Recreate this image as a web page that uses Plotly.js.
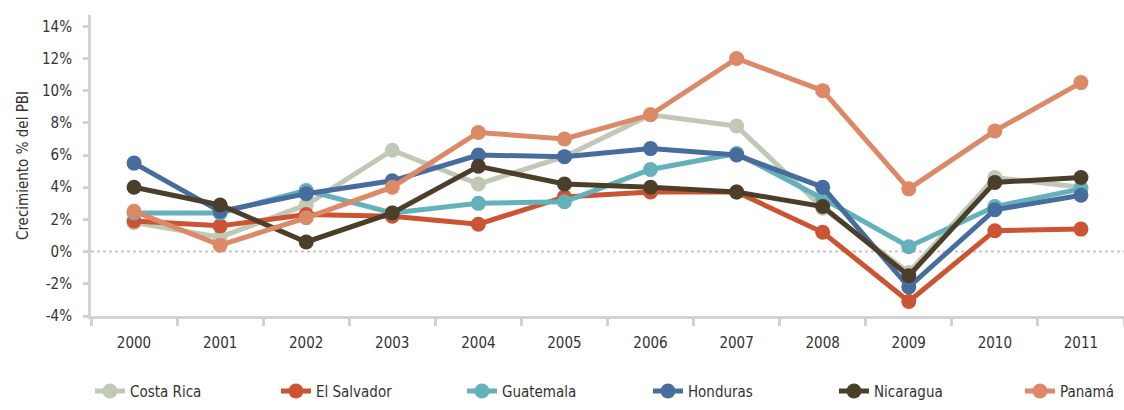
<!DOCTYPE html>
<html><head><meta charset="utf-8">
<script src="https://cdn.plot.ly/plotly-3.0.1.min.js"></script>
<style>html,body{margin:0;padding:0;background:#fff}#chart{width:1124px;height:410px}</style>
</head><body><div id="chart"></div>
<script>
const years = ['2000','2001','2002','2003','2004','2005','2006','2007','2008','2009','2010','2011'];
const costaRica  = [1.8, 0.9, 2.9, 6.3, 4.2, 5.9, 8.5, 7.8, 2.7, -1.3, 4.6, 4.0];
const elSalvador = [1.9, 1.6, 2.3, 2.2, 1.7, 3.4, 3.7, 3.7, 1.2, -3.1, 1.3, 1.4];
const guatemala  = [2.4, 2.4, 3.8, 2.4, 3.0, 3.1, 5.1, 6.1, 3.3, 0.3, 2.8, 3.9];
const honduras   = [5.5, 2.5, 3.6, 4.4, 6.0, 5.9, 6.4, 6.0, 4.0, -2.2, 2.6, 3.5];
const nicaragua  = [4.0, 2.9, 0.6, 2.4, 5.3, 4.2, 4.0, 3.7, 2.8, -1.5, 4.3, 4.6];
const panama     = [2.5, 0.4, 2.1, 4.0, 7.4, 7.0, 8.5, 12.0, 10.0, 3.9, 7.5, 10.5];
const yTickVals  = [-4,-2,0,2,4,6,8,10,12,14];
const yTickText  = ['-4%','-2%','0%','2%','4%','6%','8%','10%','12%','14%'];

const series = [
  {name:'Costa Rica', y:costaRica, color:'#c0c8b6'},
  {name:'El Salvador', y:elSalvador, color:'#cc5433'},
  {name:'Guatemala', y:guatemala, color:'#63b1ba'},
  {name:'Honduras', y:honduras, color:'#466d9e'},
  {name:'Nicaragua', y:nicaragua, color:'#4b3f2c'},
  {name:'Panamá', y:panama, color:'#db8967'}
];
const data = series.map(s => ({
  type:'scatter', mode:'lines+markers', x:years, y:s.y, name:s.name,
  line:{color:s.color, width:5}, marker:{color:s.color, size:15},
  hoverinfo:'x+y+name'
}));
const font = "'DejaVu Sans Condensed', 'Liberation Sans Narrow', sans-serif";
const layout = {
  width:1124, height:410,
  margin:{l:91, r:0, t:15, b:94, autoexpand:false},
  paper_bgcolor:'#fff', plot_bgcolor:'#fff',
  font:{family:font, size:15, color:'#333'},
  showlegend:true,
  legend:{orientation:'h', x:-0.001, xanchor:'left', y:-0.305, yanchor:'bottom',
          entrywidth:141, entrywidthmode:'pixels', font:{family:font, size:15, color:'#333'},
          traceorder:'normal'},
  xaxis:{type:'category', range:[-0.5,11.5], showgrid:false, zeroline:false,
         showline:true, linecolor:'#d2d2d2', linewidth:3,
         ticks:'outside', tickson:'boundaries', ticklen:7, tickwidth:3, tickcolor:'#d2d2d2',
         ticklabelstandoff:11, tickfont:{family:font, size:15, color:'#333'}},
  yaxis:{range:[-4,14.7], showgrid:false, zeroline:false,
         showline:true, linecolor:'#d2d2d2', linewidth:3,
         ticks:'outside', ticklen:5, tickwidth:3, tickcolor:'#d2d2d2',
         tickvals:yTickVals, ticktext:yTickText, ticklabelstandoff:8,
         tickfont:{family:font, size:15, color:'#333'},
         title:{text:'Crecimiento % del PBI', font:{family:font, size:15, color:'#333'}, standoff:10}},
  shapes:[{type:'line', xref:'paper', x0:0, x1:1, yref:'y', y0:0, y1:0,
           line:{color:'#c8c8c8', width:2, dash:'dot'}, layer:'below'}]
};
Plotly.newPlot('chart', data, layout, {displayModeBar:false, staticPlot:true});
</script></body></html>
